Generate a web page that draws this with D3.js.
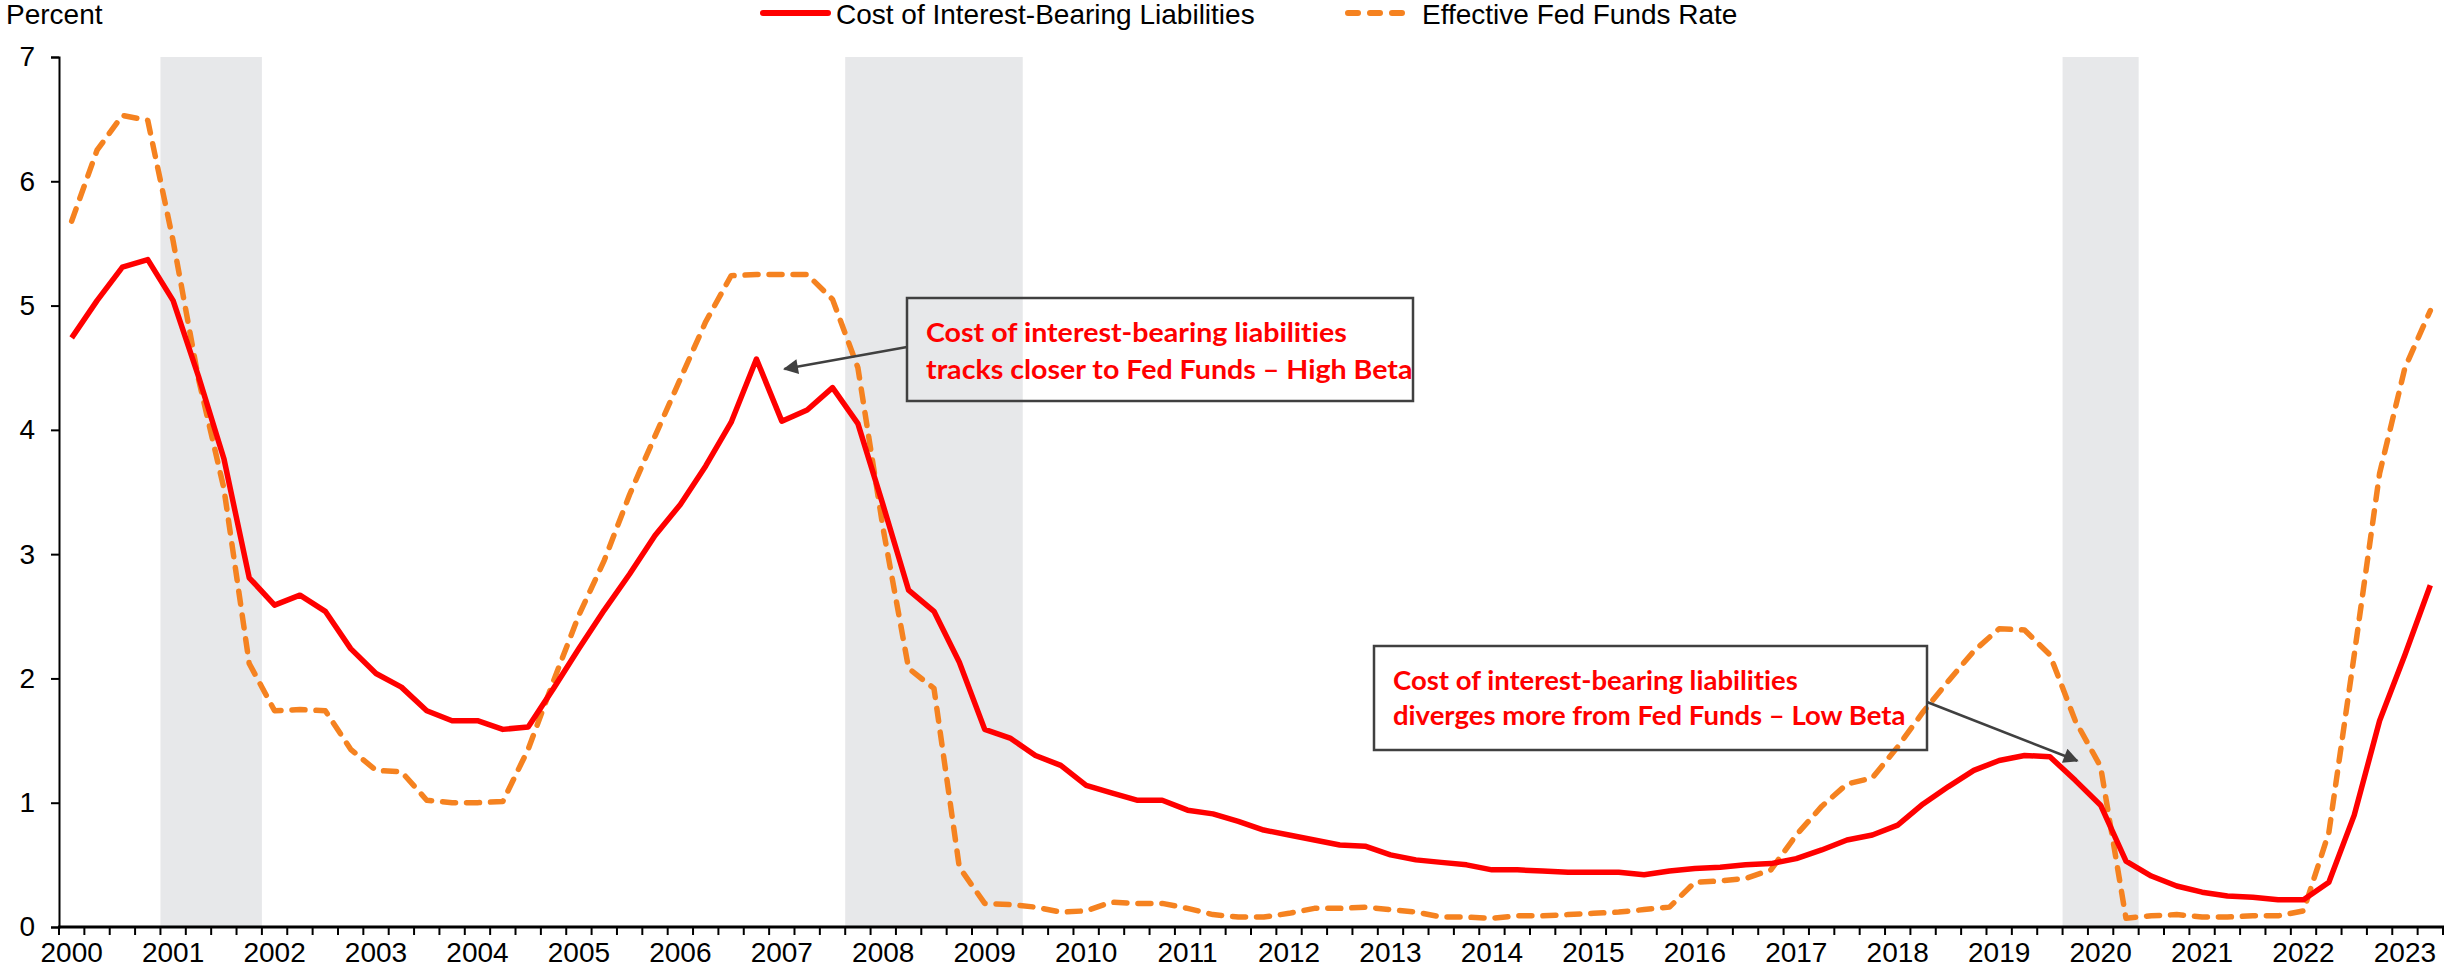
<!DOCTYPE html>
<html>
<head>
<meta charset="utf-8">
<script src="https://cdn.jsdelivr.net/npm/d3@7"></script>
<style>
  body { margin: 0; background: #fff; }
  svg { display: block; }
  text { font-variant-ligatures: none; }
</style>
</head>
<body>
<svg id="chart" width="2448" height="975"></svg>
<script>
// year labels on the category axis
const years = ["2000","2001","2002","2003","2004","2005","2006","2007","2008","2009","2010","2011",
  "2012","2013","2014","2015","2016","2017","2018","2019","2020","2021","2022","2023"]

// quarterly, 2000Q1 .. 2023Q2
const costOfLiabilities = [
  4.74, 5.04, 5.31, 5.37, 5.04, 4.43, 3.77, 2.81, 2.59, 2.67, 2.54, 2.24, 2.04, 1.93, 1.74, 1.66,
  1.66, 1.59, 1.61, 1.92, 2.24, 2.55, 2.84, 3.15, 3.40, 3.71, 4.06, 4.57, 4.07, 4.16, 4.34, 4.05,
  3.39, 2.71, 2.54, 2.13, 1.59, 1.52, 1.38, 1.30, 1.14, 1.08, 1.02, 1.02, 0.94, 0.91, 0.85,
  0.78, 0.74, 0.70, 0.66, 0.65, 0.58, 0.54, 0.52, 0.50, 0.46, 0.46, 0.45, 0.44, 0.44, 0.44, 0.42,
  0.45, 0.47, 0.48, 0.50, 0.51, 0.55, 0.62, 0.70, 0.74, 0.82, 0.99, 1.13, 1.26, 1.34, 1.38,
  1.37, 1.18, 0.98, 0.53, 0.41, 0.33, 0.28, 0.25, 0.24, 0.22, 0.22, 0.36, 0.90, 1.66, 2.19, 2.75
]
const fedFunds = [
  5.68, 6.25, 6.53, 6.49, 5.52, 4.41, 3.53, 2.12, 1.74, 1.75, 1.74, 1.43, 1.26, 1.25, 1.02, 1.00,
  1.00, 1.01, 1.43, 1.98, 2.51, 2.95, 3.48, 3.95, 4.41, 4.87, 5.24, 5.25, 5.25, 5.25, 5.05, 4.50,
  3.20, 2.08, 1.92, 0.48, 0.19, 0.18, 0.16, 0.12, 0.13, 0.20, 0.19, 0.19, 0.15, 0.10, 0.08,
  0.08, 0.11, 0.15, 0.15, 0.16, 0.14, 0.12, 0.08, 0.08, 0.07, 0.09, 0.09, 0.10, 0.11, 0.12, 0.14,
  0.16, 0.36, 0.37, 0.39, 0.46, 0.74, 0.97, 1.15, 1.20, 1.45, 1.73, 1.98, 2.22, 2.40, 2.39,
  2.19, 1.66, 1.29, 0.07, 0.09, 0.10, 0.08, 0.08, 0.09, 0.09, 0.13, 0.76, 2.19, 3.65, 4.50, 4.96
]

// shaded recessions, first and last quarter
const recessions = [["2001Q1", "2001Q4"], ["2007Q4", "2009Q2"], ["2019Q4", "2020Q2"]]

const yTicks = [0, 1, 2, 3, 4, 5, 6, 7]

const seriesNames = ["Cost of Interest-Bearing Liabilities", "Effective Fed Funds Rate"]

const notes = [
  { lines: ["Cost of interest-bearing liabilities", "tracks closer to Fed Funds \u2013 High Beta"], at: "2006Q4", value: 4.57 },
  { lines: ["Cost of interest-bearing liabilities", "diverges more from Fed Funds \u2013 Low Beta"], at: "2019Q4", value: 1.37 }
]

// build the quarter categories
const quarters = []
years.forEach(yr => ["Q1", "Q2", "Q3", "Q4"].forEach(q => quarters.push(yr + q)))
quarters.length = costOfLiabilities.length

const red = "#ff0000", orange = "#f58220", shade = "#e7e8ea", ink = "#404040"
const axisFont = "'Liberation Sans', Arial, sans-serif"
const noteFont = "Lato, 'Open Sans', sans-serif"

const svg = d3.select("#chart")
const plotLeft = 59, plotRight = 2443, plotTop = 57, plotBottom = 927

const x = d3.scaleBand().domain(quarters).range([plotLeft, plotRight]).padding(0)
const y = d3.scaleLinear().domain([0, 7]).range([plotBottom, plotTop])
const cx = q => x(q) + x.bandwidth() / 2

// recession bands
svg.append("g").selectAll("rect").data(recessions).join("rect")
  .attr("x", d => x(d[0]))
  .attr("width", d => x(d[1]) + x.bandwidth() - x(d[0]))
  .attr("y", y(7))
  .attr("height", y(0) - y(7))
  .attr("fill", shade)

// y axis
const yAxis = svg.append("g")
  .attr("transform", `translate(${plotLeft},0)`)
  .call(d3.axisLeft(y).tickValues(yTicks).tickFormat(d3.format("d")).tickSize(8).tickPadding(16))
yAxis.select(".domain").attr("stroke", "#000").attr("stroke-width", 2)
yAxis.selectAll(".tick line").attr("stroke", "#000").attr("stroke-width", 2)
yAxis.selectAll("text").attr("font-family", axisFont).attr("font-size", 28).attr("fill", "#000")

// x axis: tick marks between quarters, year label on each Q1
const xAxis = svg.append("g")
xAxis.selectAll("line.tk").data(quarters.concat(["end"])).join("line")
  .attr("class", "tk")
  .attr("x1", d => d === "end" ? plotRight : x(d))
  .attr("x2", d => d === "end" ? plotRight : x(d))
  .attr("y1", plotBottom).attr("y2", plotBottom + 8)
  .attr("stroke", "#000").attr("stroke-width", 2)
xAxis.append("line")
  .attr("x1", plotLeft - 1).attr("x2", plotRight + 1)
  .attr("y1", plotBottom).attr("y2", plotBottom)
  .attr("stroke", "#000").attr("stroke-width", 3)
xAxis.selectAll("text").data(years).join("text")
  .attr("x", d => cx(d + "Q1"))
  .attr("y", 962)
  .attr("text-anchor", "middle")
  .attr("font-family", axisFont).attr("font-size", 28)
  .text(d => d)

svg.append("text")
  .attr("x", 6).attr("y", 24)
  .attr("font-family", axisFont).attr("font-size", 28)
  .text("Percent")

// lines
const line = d3.line().x((d, i) => cx(quarters[i])).y(d => y(d))
svg.append("path").datum(fedFunds)
  .attr("d", line).attr("fill", "none")
  .attr("stroke", orange).attr("stroke-width", 5.5)
  .attr("stroke-dasharray", "13 11").attr("stroke-linecap", "round").attr("stroke-linejoin", "round")
svg.append("path").datum(costOfLiabilities)
  .attr("d", line).attr("fill", "none")
  .attr("stroke", red).attr("stroke-width", 5.5).attr("stroke-linejoin", "round")

// legend
const legend = svg.append("g")
legend.append("line").attr("x1", 763).attr("x2", 828).attr("y1", 13).attr("y2", 13)
  .attr("stroke", red).attr("stroke-width", 6).attr("stroke-linecap", "round")
legend.append("text").attr("x", 836).attr("y", 24)
  .attr("font-family", axisFont).attr("font-size", 28).text(seriesNames[0])
legend.append("line").attr("x1", 1348).attr("x2", 1406).attr("y1", 13).attr("y2", 13)
  .attr("stroke", orange).attr("stroke-width", 6).attr("stroke-linecap", "round")
  .attr("stroke-dasharray", "10 12")
legend.append("text").attr("x", 1422).attr("y", 24)
  .attr("font-family", axisFont).attr("font-size", 28).text(seriesNames[1])

// annotations
svg.append("defs").append("marker")
  .attr("id", "head").attr("viewBox", "0 0 10 10")
  .attr("refX", 9).attr("refY", 5)
  .attr("markerWidth", 7).attr("markerHeight", 6)
  .attr("orient", "auto-start-reverse")
  .append("path").attr("d", "M0,0 L10,5 L0,10 z").attr("fill", ink)

const boxes = [
  { x: 907, y: 298, w: 506, h: 103, size: 27.5, stretch: 1.04, gap: 37,
    from: [907, 347], to: [cx(notes[0].at) + 28, y(notes[0].value) + 10] },
  { x: 1374, y: 646, w: 553, h: 104, size: 27.5, stretch: 1, gap: 35,
    from: [1927, 702], to: [cx(notes[1].at) + 2, y(notes[1].value) + 4] }
]
notes.forEach((n, i) => {
  const b = boxes[i]
  svg.append("line")
    .attr("x1", b.from[0]).attr("y1", b.from[1]).attr("x2", b.to[0]).attr("y2", b.to[1])
    .attr("stroke", ink).attr("stroke-width", 2.5).attr("marker-end", "url(#head)")
  svg.append("rect")
    .attr("x", b.x).attr("y", b.y).attr("width", b.w).attr("height", b.h)
    .attr("fill", "none")
    .attr("stroke", ink).attr("stroke-width", 2.5)
  svg.append("text")
    .attr("transform", `translate(${b.x + 19},${b.y + 44}) scale(${b.stretch},1)`)
    .attr("font-family", noteFont).attr("font-weight", 700).attr("font-size", b.size).attr("fill", red)
    .selectAll("tspan").data(n.lines).join("tspan")
    .attr("x", 0).attr("y", (d, j) => j * b.gap)
    .text(d => d)
})
</script>
</body>
</html>
